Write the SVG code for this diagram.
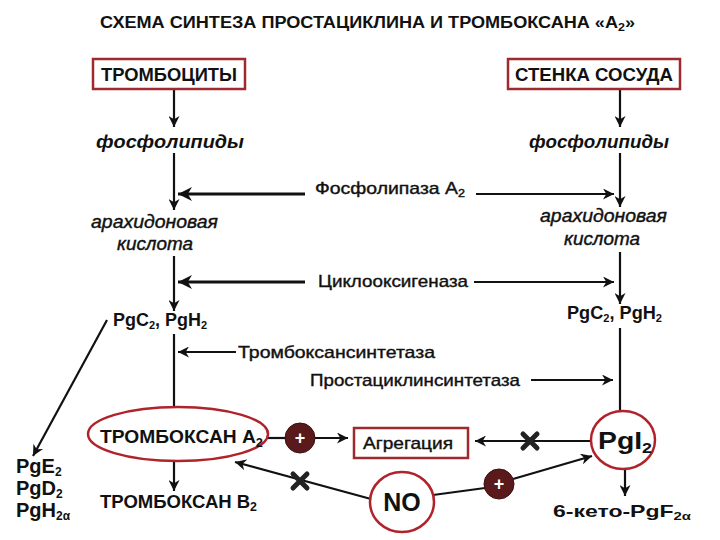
<svg xmlns="http://www.w3.org/2000/svg" width="720" height="540" viewBox="0 0 720 540">
<defs>
<marker id="ah" viewBox="0 0 10 10" refX="10" refY="5" markerWidth="5" markerHeight="5" markerUnits="strokeWidth" orient="auto">
<path d="M0,0 L10,5 L0,10 L3,5 Z" fill="#111"/>
</marker>
</defs>
<style>
text{font-family:"Liberation Sans",Arial,sans-serif;fill:#111}
.b{font-weight:bold}
.it{font-style:italic;font-weight:bold;font-size:18px}
.ac{font-style:italic;font-size:18px;stroke:#111;stroke-width:0.4}
.enz{font-size:17px;stroke:#111;stroke-width:0.4}
.box{fill:#fff;stroke:#9e2a2f;stroke-width:2.5}
.ring{fill:#fff;stroke:#b0232b;stroke-width:2.5}
.ln{stroke:#111;stroke-width:2.2;fill:none}
.hl{stroke:#111;stroke-width:2.8;fill:none}
.plus{fill:#5a1a1b;stroke:#3a1010;stroke-width:1}
.x{stroke:#222;stroke-width:5;stroke-linecap:round}
</style>
<rect width="720" height="540" fill="#fff"/>
<text x="100" y="28" class="b" font-size="16" textLength="535" lengthAdjust="spacingAndGlyphs">СХЕМА СИНТЕЗА ПРОСТАЦИКЛИНА И ТРОМБОКСАНА «А<tspan font-size="11" dy="3">2</tspan><tspan dy="-3">»</tspan></text>

<g id="connectors">
<line class="ln" x1="174" y1="90" x2="174" y2="127" marker-end="url(#ah)"/>
<line class="ln" x1="620" y1="90" x2="620" y2="127" marker-end="url(#ah)"/>
<line class="ln" x1="174" y1="153" x2="174" y2="210" marker-end="url(#ah)"/>
<line class="ln" x1="620" y1="153" x2="620" y2="207" marker-end="url(#ah)"/>
<line class="hl" x1="305" y1="194" x2="178" y2="194" marker-end="url(#ah)"/>
<line class="ln" x1="476" y1="194" x2="614" y2="194" marker-end="url(#ah)"/>
<line class="ln" x1="174" y1="256" x2="174" y2="311" marker-end="url(#ah)"/>
<line class="ln" x1="620" y1="252" x2="620" y2="304" marker-end="url(#ah)"/>
<line class="hl" x1="305" y1="282" x2="178" y2="282" marker-end="url(#ah)"/>
<line class="ln" x1="474" y1="282" x2="614" y2="282" marker-end="url(#ah)"/>
<line class="ln" x1="107" y1="320" x2="33" y2="456" marker-end="url(#ah)"/>
<line class="ln" x1="174" y1="334" x2="174" y2="423" marker-end="url(#ah)"/>
<line class="ln" x1="236" y1="352" x2="178" y2="352" marker-end="url(#ah)"/>
<line class="ln" x1="531" y1="380" x2="613" y2="380" marker-end="url(#ah)"/>
<line class="ln" x1="620" y1="328" x2="620" y2="423" marker-end="url(#ah)"/>
<line class="ln" x1="174" y1="460" x2="174" y2="491" marker-end="url(#ah)"/>
<line class="ln" x1="625" y1="469" x2="625" y2="496" marker-end="url(#ah)"/>
<line class="ln" x1="266" y1="438" x2="286" y2="438"/>
<line class="ln" x1="315" y1="438" x2="348" y2="438" marker-end="url(#ah)"/>
<line class="ln" x1="591" y1="441" x2="475" y2="441" marker-end="url(#ah)"/>
<line class="ln" x1="371" y1="499" x2="235" y2="462" marker-end="url(#ah)"/>
<line class="ln" x1="433" y1="495" x2="485" y2="488"/>
<line class="ln" x1="513" y1="479" x2="592" y2="456" marker-end="url(#ah)"/>
<path class="x" d="M293,474 L307,488 M307,474 L293,488"/>
<path class="x" d="M523,434 L537,448 M537,434 L523,448"/>
</g>

<g id="trombocity"><rect class="box" x="93" y="59" width="152" height="30"/><text x="101" y="81" class="b" font-size="18" textLength="136" lengthAdjust="spacingAndGlyphs">ТРОМБОЦИТЫ</text></g>
<g id="stenka"><rect class="box" x="508" y="59" width="172" height="30"/><text x="515" y="81" class="b" font-size="18" textLength="158" lengthAdjust="spacingAndGlyphs">СТЕНКА СОСУДА</text></g>
<g id="fosfo-l"><text x="96" y="148" class="it" textLength="148" lengthAdjust="spacingAndGlyphs">фосфолипиды</text></g>
<g id="fosfo-r"><text x="529" y="148" class="it" textLength="140" lengthAdjust="spacingAndGlyphs">фосфолипиды</text></g>
<g id="fla2"><text x="315" y="194" class="enz" textLength="150" lengthAdjust="spacingAndGlyphs">Фосфолипаза А<tspan font-size="11" dy="3">2</tspan></text></g>
<g id="arah-l"><text x="91" y="228" class="ac" textLength="127" lengthAdjust="spacingAndGlyphs">арахидоновая</text><text x="117" y="250" class="ac" textLength="76" lengthAdjust="spacingAndGlyphs">кислота</text></g>
<g id="arah-r"><text x="540" y="222" class="ac" textLength="127" lengthAdjust="spacingAndGlyphs">арахидоновая</text><text x="564" y="245" class="ac" textLength="76" lengthAdjust="spacingAndGlyphs">кислота</text></g>
<g id="cox"><text x="318" y="287" class="enz" textLength="150" lengthAdjust="spacingAndGlyphs">Циклооксигеназа</text></g>
<g id="pg-l"><text x="113" y="326" class="b" font-size="18" textLength="94" lengthAdjust="spacingAndGlyphs">PgC<tspan font-size="11" dy="3">2</tspan><tspan dy="-3">, PgH</tspan><tspan font-size="11" dy="3">2</tspan></text></g>
<g id="pg-r"><text x="567" y="319" class="b" font-size="18" textLength="95" lengthAdjust="spacingAndGlyphs">PgC<tspan font-size="11" dy="3">2</tspan><tspan dy="-3">, PgH</tspan><tspan font-size="11" dy="3">2</tspan></text></g>
<g id="tbs"><text x="238" y="358" class="enz" textLength="197" lengthAdjust="spacingAndGlyphs">Тромбоксансинтетаза</text></g>
<g id="pcs"><text x="310" y="386" class="enz" textLength="210" lengthAdjust="spacingAndGlyphs">Простациклинсинтетаза</text></g>
<g id="pg-other"><text x="16" y="473" class="b" font-size="20">PgE<tspan font-size="12" dy="3">2</tspan></text><text x="16" y="495" class="b" font-size="20">PgD<tspan font-size="12" dy="3">2</tspan></text><text x="16" y="517" class="b" font-size="20">PgH<tspan font-size="12" dy="3">2α</tspan></text></g>
<g id="txa2"><ellipse class="ring" cx="178" cy="434" rx="90" ry="27"/><text x="100" y="443" class="b" font-size="18" textLength="163" lengthAdjust="spacingAndGlyphs">ТРОМБОКСАН А<tspan font-size="12" dy="4">2</tspan></text></g>
<g id="txb2"><text x="100" y="508" class="b" font-size="18" textLength="157" lengthAdjust="spacingAndGlyphs">ТРОМБОКСАН В<tspan font-size="12" dy="3">2</tspan></text></g>
<g id="plus1"><circle class="plus" cx="300" cy="438" r="15"/><text x="300" y="444" text-anchor="middle" class="b" font-size="18" style="fill:#fff">+</text></g>
<g id="agreg"><rect class="box" x="354" y="428" width="114" height="30"/><text x="363" y="449" font-size="17" class="enz" textLength="90" lengthAdjust="spacingAndGlyphs">Агрегация</text></g>
<g id="pgi2"><ellipse class="ring" cx="623" cy="440" rx="32" ry="29"/><text x="598" y="449" class="b" font-size="24" textLength="54" lengthAdjust="spacingAndGlyphs">PgI<tspan font-size="15" dy="4">2</tspan></text></g>
<g id="no"><ellipse class="ring" cx="402" cy="502" rx="32" ry="30"/><text x="402" y="511" text-anchor="middle" class="b" font-size="25">NO</text></g>
<g id="plus2"><circle class="plus" cx="499" cy="484" r="15"/><text x="499" y="490" text-anchor="middle" class="b" font-size="18" style="fill:#fff">+</text></g>
<g id="keto"><text x="553" y="517" class="b" font-size="17" textLength="138" lengthAdjust="spacingAndGlyphs">6-кето-PgF<tspan font-size="11" dy="3">2α</tspan></text></g>
</svg>
